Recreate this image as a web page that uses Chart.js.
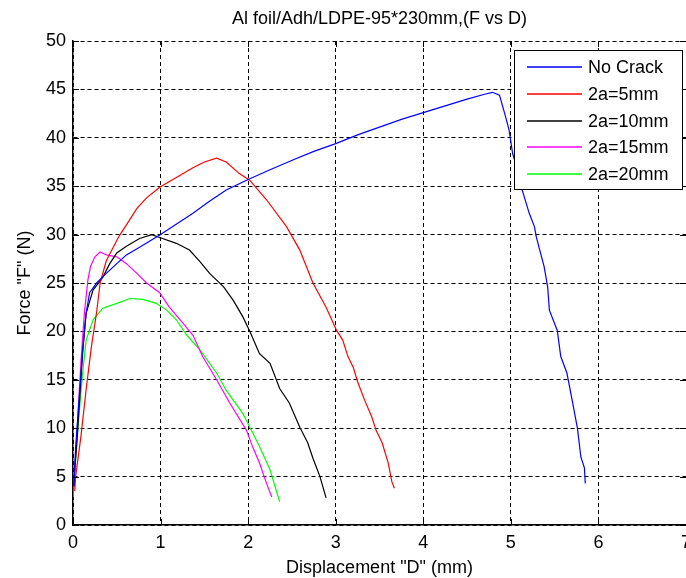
<!DOCTYPE html>
<html>
<head>
<meta charset="utf-8">
<script src="https://cdn.jsdelivr.net/npm/chart.js@4.4.0/dist/chart.umd.min.js"></script>
<style>
html,body{margin:0;padding:0;background:#fff;}
canvas{display:block;}
</style>
</head>
<body>
<canvas id="c" width="686" height="578"></canvas>
<script>
// ---- Data ----
const chartTitle = 'Al foil/Adh/LDPE-95*230mm,(F vs D)';
const xAxisTitle = 'Displacement "D" (mm)';
const yAxisTitle = 'Force "F" (N)';
const seriesLabels = ['No Crack', '2a=5mm', '2a=10mm', '2a=15mm', '2a=20mm'];
const seriesColors = ['#0000ff', '#ff0000', '#000000', '#ff00ff', '#00ff00'];
const xTickValues = [0, 1, 2, 3, 4, 5, 6, 7];
const yTickValues = [0, 5, 10, 15, 20, 25, 30, 35, 40, 45, 50];

const noCrackX = [0.01,0.03,0.07,0.11,0.15,0.19,0.27,0.38,0.5,0.61,0.76,1.0,1.2,1.37,1.55,1.75,2.0,2.25,2.51,2.75,3.0,3.25,3.5,3.75,4.0,4.25,4.5,4.7,4.79,4.87,4.93,4.98,5.02,5.08,5.13,5.21,5.27,5.29,5.33,5.38,5.42,5.44,5.53,5.57,5.64,5.7,5.76,5.8,5.84,5.85];
const noCrackY = [4,8,13,18,21.9,24,25,26,27,27.9,28.7,30.0,31.2,32.2,33.4,34.6,35.7,36.7,37.7,38.6,39.4,40.3,41.1,41.9,42.6,43.3,44.0,44.5,44.7,44.4,42.5,40.8,38.4,36.5,34.6,32.2,30.8,29.8,28.4,26.7,24.6,22.2,20.1,17.4,15.7,12.9,10,7,5.9,4.3];

const crack5X = [0.02,0.03,0.09,0.15,0.21,0.27,0.31,0.38,0.46,0.53,0.61,0.73,0.84,0.99,1.18,1.37,1.5,1.64,1.75,1.9,2.02,2.21,2.44,2.59,2.74,2.89,3.01,3.08,3.14,3.2,3.25,3.33,3.41,3.46,3.53,3.6,3.64,3.67];
const crack5Y = [3.5,5,9.1,14,18.4,22,25,27.3,28.7,29.9,31,32.7,33.8,34.9,35.9,36.9,37.5,37.9,37.5,36.3,35.6,33.6,30.8,28.4,25,22.5,20.1,19.1,17.4,16.3,14.8,12.9,11.2,9.8,8.5,6.4,4.5,3.8];

const crack10X = [0.01,0.02,0.04,0.07,0.11,0.15,0.23,0.3,0.34,0.42,0.5,0.61,0.76,0.9,0.99,1.18,1.33,1.45,1.56,1.72,1.83,1.94,2.02,2.13,2.25,2.36,2.47,2.59,2.68,2.74,2.82,2.89];
const crack10Y = [4,6,8,12.2,17.8,21.9,24.3,25.1,25.6,27,28.1,28.8,29.6,30.0,29.7,29.1,28.4,27.2,26,24.6,23.2,21.5,20,17.7,16.7,14.1,12.6,10.1,8.5,6.9,5,2.8];

const crack15X = [0.0,0.03,0.06,0.09,0.13,0.17,0.2,0.25,0.31,0.38,0.5,0.61,0.73,0.84,0.99,1.1,1.26,1.37,1.48,1.64,1.79,1.98,2.05,2.13,2.21,2.27];
const crack15Y = [2.8,7,12,16.7,21.9,25.3,26.7,27.7,28.2,27.9,27.7,27,26,25,24,22.5,20.8,19.6,17.4,15,12.6,9.8,8.1,6.4,4.3,2.9];

const crack20X = [0.0,0.03,0.07,0.11,0.15,0.23,0.34,0.5,0.65,0.8,0.95,1.07,1.18,1.3,1.45,1.64,1.75,1.94,2.02,2.13,2.25,2.36];
const crack20Y = [2.9,6.7,11.5,15.7,19.1,21.2,22.4,22.9,23.4,23.3,22.9,22.2,21.2,19.6,18.1,15.7,13.9,11.5,10.1,8.1,5.7,2.4];

const seriesX = [noCrackX, crack5X, crack10X, crack15X, crack20X];
const seriesY = [noCrackY, crack5Y, crack10Y, crack15Y, crack20Y];

// ---- Build datasets ----
const FONT = '"Liberation Sans", Arial, sans-serif';
Chart.defaults.font.family = FONT;
Chart.defaults.color = '#000';

const datasets = seriesLabels.map((lab, i) => ({
  label: lab,
  data: seriesX[i].map((x, j) => ({x: x, y: seriesY[i][j]})),
  borderColor: seriesColors[i],
  backgroundColor: seriesColors[i],
  borderWidth: 1.2,
  showLine: true,
  pointRadius: 0,
  tension: 0,
  fill: false
}));

const boxLegend = {
  id: 'boxLegend',
  afterDraw(chart) {
    const ctx = chart.ctx;
    ctx.save();
    const x0 = 514.5, y0 = 50.5, w = 168, h = 139;
    ctx.fillStyle = '#fff';
    ctx.fillRect(x0, y0, w, h);
    ctx.strokeStyle = '#000';
    ctx.lineWidth = 1;
    ctx.strokeRect(x0, y0, w, h);
    ctx.font = '18px ' + FONT;
    ctx.textBaseline = 'middle';
    ctx.textAlign = 'left';
    chart.data.datasets.forEach((ds, i) => {
      const y = Math.round(67 + i * 26.8);
      ctx.strokeStyle = ds.borderColor;
      ctx.lineWidth = 1.5;
      ctx.beginPath();
      ctx.moveTo(527, y);
      ctx.lineTo(582, y);
      ctx.stroke();
      ctx.fillStyle = '#000';
      ctx.fillText(ds.label, 588, y + 1);
    });
    ctx.restore();
  }
};

const innerTicks = {
  id: 'innerTicks',
  afterDatasetsDraw(chart) {
    const ctx = chart.ctx;
    const a = chart.chartArea;
    const xs = chart.scales.x, ys = chart.scales.y;
    ctx.save();
    ctx.strokeStyle = '#000';
    ctx.lineWidth = 1;
    ctx.beginPath();
    xTickValues.forEach(v => {
      const px = Math.round(xs.getPixelForValue(v)) + 0.5;
      ctx.moveTo(px, a.top); ctx.lineTo(px, a.top + 6);
      ctx.moveTo(px, a.bottom); ctx.lineTo(px, a.bottom - 6);
    });
    yTickValues.forEach(v => {
      const py = Math.round(ys.getPixelForValue(v)) + 0.5;
      ctx.moveTo(a.left, py); ctx.lineTo(a.left + 6, py);
      ctx.moveTo(a.right, py); ctx.lineTo(a.right - 6, py);
    });
    ctx.stroke();
    ctx.restore();
  }
};

new Chart(document.getElementById('c'), {
  type: 'scatter',
  data: { datasets: datasets },
  options: {
    responsive: false,
    animation: false,
    layout: { padding: { left: 0, right: 0, top: 0, bottom: 0 } },
    plugins: {
      legend: { display: false },
      tooltip: { enabled: false },
      title: {
        display: true,
        text: chartTitle,
        fullSize: false,
        color: '#000',
        font: { size: 18, weight: 'normal', family: FONT, lineHeight: 1.2 },
        padding: { top: 8, bottom: 11.4 }
      }
    },
    scales: {
      x: {
        type: 'linear',
        min: 0, max: 7,
        afterBuildTicks: s => { s.ticks = xTickValues.map(v => ({ value: v })); },
        afterFit: s => { s.height = 53; s.paddingLeft = 0; s.paddingRight = 0; },
        ticks: { padding: 7, font: { size: 18 }, color: '#000', maxRotation: 0, autoSkip: false },
        grid: { color: '#000', lineWidth: 1, drawTicks: false },
        border: { display: true, color: '#000', width: 1.5, dash: [4, 3] },
        title: { display: true, text: xAxisTitle, color: '#000', font: { size: 18, lineHeight: 1.0 }, padding: { top: 0, bottom: 1 } }
      },
      y: {
        type: 'linear',
        min: 0, max: 50,
        afterBuildTicks: s => { s.ticks = yTickValues.map(v => ({ value: v })); },
        afterFit: s => { s.width = 73; s.paddingTop = 0; s.paddingBottom = 0; },
        ticks: { padding: 7, font: { size: 18 }, color: '#000', autoSkip: false },
        grid: { color: '#000', lineWidth: 1, drawTicks: false },
        border: { display: true, color: '#000', width: 1.5, dash: [4, 3] },
        title: { display: true, text: yAxisTitle, color: '#000', font: { size: 18, lineHeight: 1.2 }, padding: { top: 14.2, bottom: 0 } }
      }
    }
  },
  plugins: [innerTicks, boxLegend]
});
</script>
</body>
</html>
